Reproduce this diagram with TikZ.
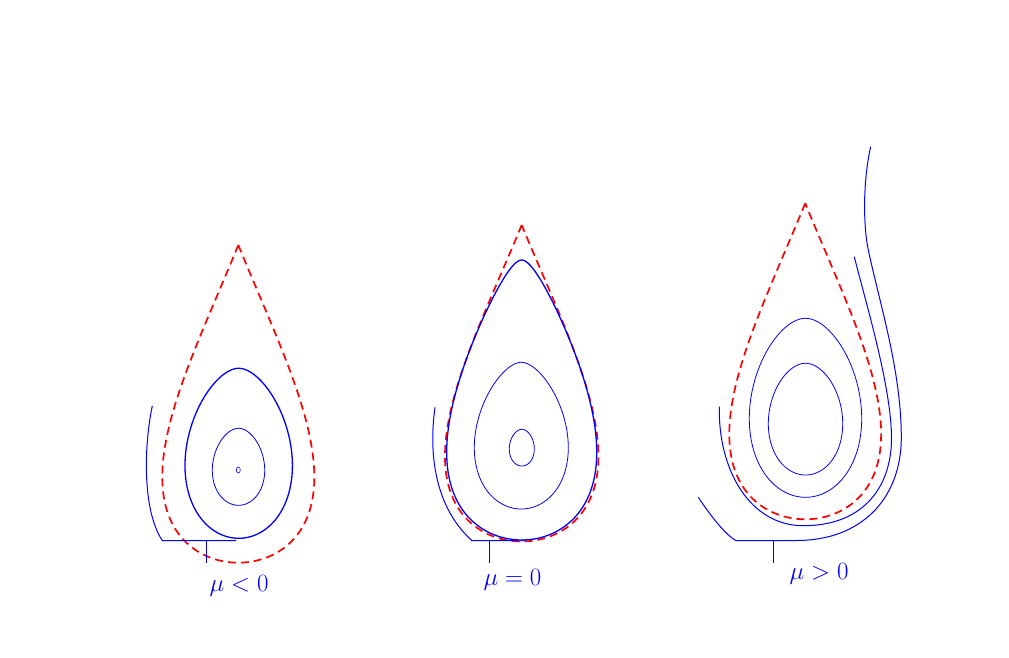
\documentclass[tikz,border=0pt]{standalone}
\definecolor{pblue}{RGB}{0,0,255}
\definecolor{pred}{RGB}{255,0,0}
\tikzset{
  orbit/.style={draw=pblue, line width=0.8pt},
  orbitthick/.style={draw=pblue, line width=1.3pt},
  separatrix/.style={draw=pred, line width=1.7pt, dash pattern=on 8pt off 5pt},
  traj/.style={draw=pblue, line width=1pt},
  lbl/.style={text=pblue, font=\fontsize{23}{27}\selectfont, inner sep=0pt},
}
% cx, ytop, ybottom, half-width, r (tip rounding), q (pear factor), style
\newcommand{\orb}[7]{%
  \gdef\orbM{0}%
  \foreach \t in {0.5,1.5,...,89.5}{%
    \pgfmathsetmacro\orbV{sin(\t)*cos(\t)*(cos(\t)+#5)*(1+#6*cos(\t)*cos(\t))}%
    \pgfmathsetmacro\orbN{max(\orbV,\orbM)}%
    \xdef\orbM{\orbN}%
  }%
  \draw[#7] plot[domain=-90:90,samples=241]
    ({#1+#4*sin(\x)*cos(\x)*(cos(\x)+#5)*(1+#6*cos(\x)*cos(\x))/\orbM},
     {#3-(#3-#2)*sin(\x)*sin(\x)}) -- cycle;
}
\begin{document}
\begin{tikzpicture}[x=1pt,y=-1pt]
\path[fill=white,use as bounding box] (0,0) rectangle (1009,658);

% ---------------- panel 1 : mu < 0
\orb{238.3}{245}{562.7}{76}{0}{0.75}{separatrix}
\orb{238.7}{368.3}{538.3}{53.7}{1.5}{0}{orbitthick}
\orb{238.5}{428.3}{505.3}{26.2}{3}{0}{orbit}
\draw[orbit, line width=0.6pt] (238.3,470) ellipse [x radius=2pt, y radius=3pt];
\coordinate (p1s) at (152.3,406);
\coordinate (p1c) at (162.3,540.5);
\coordinate (p1e) at (236,540.5);
\coordinate (p1t) at (206.5,540.5);
\coordinate (p1b) at (206.5,563);
\draw[traj] (p1s) .. controls (144,445) and (142,510) .. (p1c) -- (p1e);
\draw[traj] (p1t) -- (p1b);
\node[lbl] (m1) at (239,586) {$\mu<0$};

% ---------------- panel 2 : mu = 0
\orb{521.7}{225}{541.5}{76.7}{0}{0.75}{separatrix}
\orb{521.7}{260}{540}{75}{0.8}{0.75}{orbitthick}
\orb{521.3}{362.3}{509}{47}{1.2}{0}{orbit}
\orb{521.8}{429.3}{466}{12.5}{4}{0}{orbit}
\coordinate (p2s) at (435,407.3);
\coordinate (p2c) at (471.7,540.5);
\coordinate (p2e) at (525,540.5);
\coordinate (p2t) at (489.5,540.5);
\coordinate (p2b) at (489.5,563);
\draw[traj] (p2s) .. controls (429,450) and (433,505) .. (p2c) -- (p2e);
\draw[traj] (p2t) -- (p2b);
\node[lbl] (m2) at (512.5,580) {$\mu=0$};

% ---------------- panel 3 : mu > 0
\orb{805.2}{203.3}{519.3}{75.9}{0}{0.75}{separatrix}
\orb{805.5}{318.3}{497.3}{56.2}{2}{0}{orbit}
\orb{805.5}{363.3}{475}{37.2}{3.4}{0}{orbit}
% second trajectory
\coordinate (p3as) at (719.3,406.7);
\coordinate (p3am) at (803.3,525.7);
\coordinate (p3ar) at (891.5,437);
\coordinate (p3ae) at (854.3,256.7);
\draw[traj] (p3as) .. controls (718,470) and (750,525.7) .. (p3am)
  .. controls (865,525.7) and (892,485) .. (p3ar)
  .. controls (891,385) and (865,300) .. (p3ae);
% outermost trajectory
\coordinate (p3bs) at (870.7,146.7);
\coordinate (p3b1) at (868.3,250);
\coordinate (p3b2) at (901.3,436.7);
\coordinate (p3bc) at (796.7,540.5);
\coordinate (p3bd) at (736,540.5);
\coordinate (p3be) at (698.3,497.3);
\coordinate (p3t) at (773.5,540.5);
\coordinate (p3b) at (773.5,563.3);
\draw[traj] (p3bs) .. controls (863,180) and (863,225) .. (p3b1)
  .. controls (880,305) and (901,370) .. (p3b2)
  .. controls (901.5,500) and (860,540.5) .. (p3bc) -- (p3bd)
  .. controls (725,535) and (708,512) .. (p3be);
\draw[traj] (p3t) -- (p3b);
\node[lbl] (m3) at (819,574) {$\mu>0$};
\end{tikzpicture}
\end{document}
